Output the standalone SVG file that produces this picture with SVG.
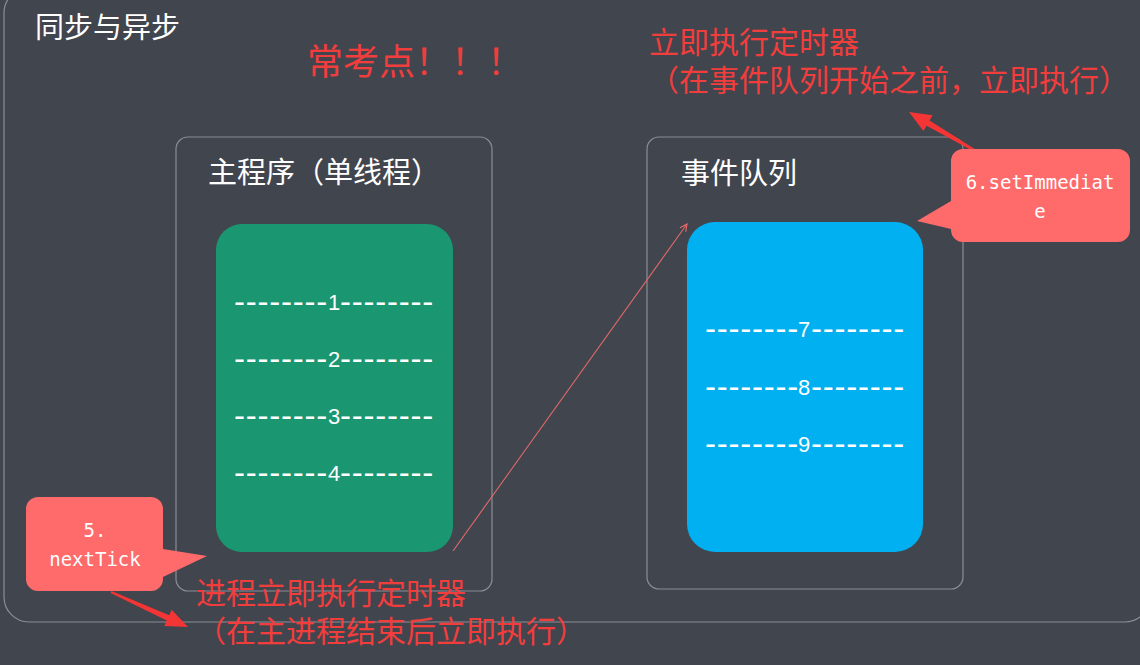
<svg xmlns="http://www.w3.org/2000/svg" width="1140" height="665" viewBox="0 0 1140 665">
  <defs>
    <style>
      .frame { fill: none; stroke: #8c8e93; stroke-width: 1.2; }
      .cjk { font-family: "Noto Sans CJK SC", "Noto Sans", sans-serif; }
      .title { fill: #ffffff; font-size: 29px; }
      .note { fill: #f23d3d; font-size: 30px; }
      .row { fill: #ffffff; font-family: "Liberation Sans", "DejaVu Sans", sans-serif; font-size: 22px; }
      .dash { font-size: 33px; letter-spacing: 0.75px; }
      .mono { fill: #ffffff; font-family: "DejaVu Sans Mono", "Liberation Mono", monospace; font-size: 19px; text-anchor: middle; }
      .callout { fill: #ff6a6a; }
      .bigarrow { fill: #f33535; }
    </style>
    <marker id="openArrow" viewBox="0 0 10 10" refX="9" refY="5" markerWidth="9" markerHeight="9" markerUnits="userSpaceOnUse" orient="auto">
      <path d="M1,1 L9,5 L1,9" fill="none" stroke="#e46a6a" stroke-width="1.2"/>
    </marker>
  </defs>

  <rect x="0" y="0" width="1140" height="665" fill="#41454e"/>

  <g id="outer">
    <rect class="frame" x="4" y="-12" width="1146" height="634" rx="25"/>
    <text class="cjk title" x="35" y="38">同步与异步</text>
  </g>

  <g id="headline">
    <text class="cjk" x="307" y="75" fill="#f23d3d" font-size="36">常考点！！！</text>
  </g>

  <g id="main-program">
    <rect class="frame" x="176" y="137" width="316" height="454" rx="12"/>
    <text class="cjk title" x="208" y="183">主程序（单线程）</text>
  </g>

  <g id="main-stack">
    <rect x="216" y="224" width="237" height="328" rx="26" fill="#1a9670"/>
    <text class="row"><tspan class="dash" x="234" y="312.5">--------</tspan><tspan x="328" y="310">1</tspan><tspan class="dash" x="340" y="312.5">--------</tspan></text>
    <text class="row"><tspan class="dash" x="234" y="369.5">--------</tspan><tspan x="328" y="367">2</tspan><tspan class="dash" x="340" y="369.5">--------</tspan></text>
    <text class="row"><tspan class="dash" x="234" y="426.5">--------</tspan><tspan x="328" y="424">3</tspan><tspan class="dash" x="340" y="426.5">--------</tspan></text>
    <text class="row"><tspan class="dash" x="234" y="483.5">--------</tspan><tspan x="328" y="481">4</tspan><tspan class="dash" x="340" y="483.5">--------</tspan></text>
  </g>

  <g id="event-queue">
    <rect class="frame" x="647" y="137" width="316" height="452" rx="12"/>
    <text class="cjk title" x="681" y="184">事件队列</text>
  </g>

  <g id="queue-stack">
    <rect x="687" y="222" width="236" height="330" rx="28" fill="#00b0f0"/>
    <text class="row"><tspan class="dash" x="705" y="339.5">--------</tspan><tspan x="798" y="337">7</tspan><tspan class="dash" x="811" y="339.5">--------</tspan></text>
    <text class="row"><tspan class="dash" x="705" y="397.5">--------</tspan><tspan x="798" y="395">8</tspan><tspan class="dash" x="811" y="397.5">--------</tspan></text>
    <text class="row"><tspan class="dash" x="705" y="454.5">--------</tspan><tspan x="798" y="452">9</tspan><tspan class="dash" x="811" y="454.5">--------</tspan></text>
  </g>

  <g id="connectors">
    <line x1="453" y1="551" x2="687" y2="224" stroke="#e46a6a" stroke-width="1.1" marker-end="url(#openArrow)"/>
    <polygon class="bigarrow" points="979.5,152.1 929.5,120.5 932.6,115.3 909,112 923.4,130.9 926.5,125.7 978.5,153.9"/>
    <polygon class="bigarrow" points="111.4,591.1 169.2,615.2 171.7,609.7 188,627 164.3,626.1 166.8,620.6 110.6,592.9"/>
  </g>

  <g id="callout-setImmediate">
    <path class="callout" d="M963,149 H1118 A12,12 0 0 1 1130,161 V230 A12,12 0 0 1 1118,242 H963 A12,12 0 0 1 951,230 V229 L917,221 L951,201 V161 A12,12 0 0 1 963,149 Z"/>
    <text class="mono" x="1040" y="189">6.setImmediat</text>
    <text class="mono" x="1040" y="218">e</text>
  </g>

  <g id="callout-nextTick">
    <path class="callout" d="M38,497 H151 A12,12 0 0 1 163,509 V549 L207,556 L163,577 V579 A12,12 0 0 1 151,591 H38 A12,12 0 0 1 26,579 V509 A12,12 0 0 1 38,497 Z"/>
    <text class="mono" x="95" y="537">5.</text>
    <text class="mono" x="95" y="566">nextTick</text>
  </g>

  <g id="note-setImmediate">
    <text class="cjk note" x="649" y="53">立即执行定时器<tspan x="649" y="91">（在事件队列开始之前，立即执行）</tspan></text>
  </g>

  <g id="note-nextTick">
    <text class="cjk note" x="196" y="604">进程立即执行定时器<tspan x="196" y="642">（在主进程结束后立即执行）</tspan></text>
  </g>
</svg>
